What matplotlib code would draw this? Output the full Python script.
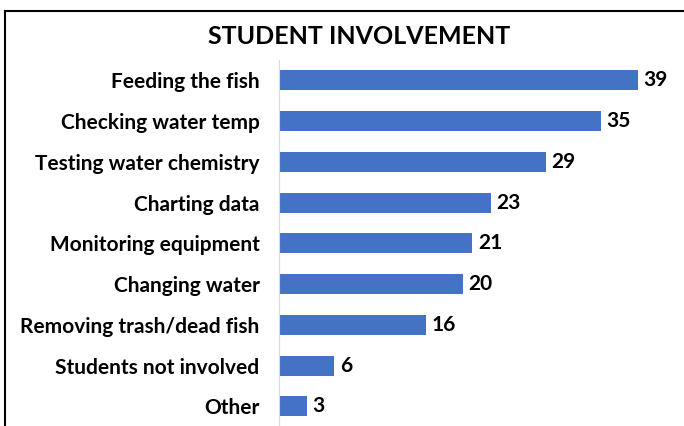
import matplotlib.pyplot as plt
from matplotlib.lines import Line2D

categories = ["Feeding the fish", "Checking water temp", "Testing water chemistry",
              "Charting data", "Monitoring equipment", "Changing water",
              "Removing trash/dead fish", "Students not involved", "Other"]
values = [39, 35, 29, 23, 21, 20, 16, 6, 3]

plt.rcParams['font.family'] = ['Lato', 'DejaVu Sans']

fig = plt.figure(figsize=(6.84, 4.26), dpi=100)
ax = fig.add_axes([279 / 684, 0, 1 - 279 / 684, (426 - 60) / 426])

pos = range(len(categories))
bars = ax.barh(pos, values, height=0.49, color='#4472C4')
ax.set_ylim(8.48, -0.5)
ax.set_xlim(0, 44)

for b, v in zip(bars, values):
    ax.annotate(str(v), (b.get_width(), b.get_y() + b.get_height() / 2),
                xytext=(4, 0), textcoords='offset points', va='center',
                fontsize=15, fontweight='bold')

ax.set_yticks(list(pos))
ax.set_yticklabels(categories, fontsize=15, fontweight='bold')
ax.tick_params(axis='y', length=0, pad=14)
ax.set_xticks([])
for s in ['top', 'right', 'bottom']:
    ax.spines[s].set_visible(False)
ax.spines['left'].set_color('#d9d9d9')

fig.text(359 / 684, 1 - 37 / 426, "STUDENT INVOLVEMENT", ha='center', va='center',
         fontsize=18, fontweight='bold')

# outer frame (only left and top visible)
fig.add_artist(Line2D([5 / 684, 5 / 684], [0, 1 - 11 / 426], color='black', lw=1.5,
                      transform=fig.transFigure))
fig.add_artist(Line2D([5 / 684, 1], [1 - 11 / 426, 1 - 11 / 426], color='black', lw=1.5,
                      transform=fig.transFigure))

fig.savefig('out.png', dpi=100)
